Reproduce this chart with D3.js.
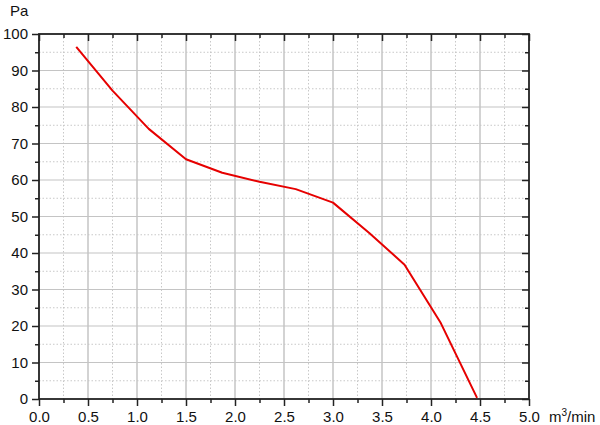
<!DOCTYPE html>
<html><head><meta charset="utf-8">
<script src="https://cdn.jsdelivr.net/npm/d3@7"></script>
<style>body{margin:0;background:#fff}svg{display:block}text{font-family:"Liberation Sans",Arial,sans-serif}</style>
</head><body>
<svg id="c" width="600" height="425"></svg>
<script>
const flow = [0.38, 0.75, 1.12, 1.50, 1.87, 2.25, 2.62, 3.00, 3.37, 3.73, 4.10, 4.47];
const pressure = [96.5, 84.5, 74.0, 65.7, 62.0, 59.5, 57.5, 53.8, 45.5, 36.8, 20.8, 0.3];
const xTicks = [0, 0.5, 1, 1.5, 2, 2.5, 3, 3.5, 4, 4.5, 5];
const yTicks = [0, 10, 20, 30, 40, 50, 60, 70, 80, 90, 100];
const xMinor = d3.range(0.25, 5, 0.5);
const yMinor = d3.range(5, 100, 10);

const svg = d3.select("#c");
const L = 39, R = 529, T = 34, B = 399;
const x = d3.scaleLinear().domain([0, 5]).range([L, R]);
const y = d3.scaleLinear().domain([0, 100]).range([B, T]);

// minor grid
const g = svg.append("g");
g.selectAll(".mx").data(xMinor).enter().append("line")
  .attr("x1", d => x(d)).attr("x2", d => x(d)).attr("y1", T).attr("y2", B)
  .attr("stroke", "#c8c8c8").attr("stroke-width", 1).attr("stroke-dasharray", "1.5,2");
g.selectAll(".my").data(yMinor).enter().append("line")
  .attr("y1", d => y(d)).attr("y2", d => y(d)).attr("x1", L).attr("x2", R)
  .attr("stroke", "#c8c8c8").attr("stroke-width", 1).attr("stroke-dasharray", "1.5,2");
// major grid
g.selectAll(".gx").data(xTicks.slice(1, -1)).enter().append("line")
  .attr("x1", d => x(d)).attr("x2", d => x(d)).attr("y1", T).attr("y2", B)
  .attr("stroke", "#c4c4c4").attr("stroke-width", 1.5);
g.selectAll(".gy").data(yTicks.slice(1, -1)).enter().append("line")
  .attr("y1", d => y(d)).attr("y2", d => y(d)).attr("x1", L).attr("x2", R)
  .attr("stroke", "#c4c4c4").attr("stroke-width", 1.2);

// axes
const xAxis = svg.append("g").attr("transform", `translate(0,${B})`)
  .call(d3.axisBottom(x).tickValues(xTicks).tickFormat(d3.format(".1f")).tickSize(7).tickPadding(5));
const xAxisMinor = svg.append("g").attr("transform", `translate(0,${B})`)
  .call(d3.axisBottom(x).tickValues(xMinor).tickFormat("").tickSize(4));
const yAxis = svg.append("g").attr("transform", `translate(${L},0)`)
  .call(d3.axisLeft(y).tickValues(yTicks).tickFormat(d3.format("d")).tickSize(7).tickPadding(4));
const yAxisMinor = svg.append("g").attr("transform", `translate(${L},0)`)
  .call(d3.axisLeft(y).tickValues(yMinor).tickFormat("").tickSize(4));
const topAxis = svg.append("g").attr("transform", `translate(0,${T})`)
  .call(d3.axisBottom(x).tickValues(xTicks).tickFormat("").tickSize(7));
const topMinor = svg.append("g").attr("transform", `translate(0,${T})`)
  .call(d3.axisBottom(x).tickValues(xMinor).tickFormat("").tickSize(4));
const rightAxis = svg.append("g").attr("transform", `translate(${R},0)`)
  .call(d3.axisLeft(y).tickValues(yTicks).tickFormat("").tickSize(7));
const rightMinor = svg.append("g").attr("transform", `translate(${R},0)`)
  .call(d3.axisLeft(y).tickValues(yMinor).tickFormat("").tickSize(4));

[xAxis, xAxisMinor, yAxis, yAxisMinor, topAxis, topMinor, rightAxis, rightMinor].forEach(a => {
  a.select(".domain").remove();
  a.selectAll("line").attr("stroke", "#222").attr("stroke-width", 1.5);
  a.selectAll("text").attr("fill", "#111").style("font-size", "15px").style("font-family", "'Liberation Sans',Arial,sans-serif");
});

// frame
svg.append("rect").attr("x", L).attr("y", T).attr("width", R - L).attr("height", B - T)
  .attr("fill", "none").attr("stroke", "#222").attr("stroke-width", 1.8);

// line
const pts = flow.map((f, i) => [f, pressure[i]]);
svg.append("path").datum(pts)
  .attr("d", d3.line().x(d => x(d[0])).y(d => y(d[1])))
  .attr("fill", "none").attr("stroke", "#e60000").attr("stroke-width", 2).attr("stroke-linejoin", "round");

// axis titles
svg.append("text").attr("x", 10).attr("y", 16).text("Pa").style("font-size", "15px").attr("fill", "#111");
const xt = svg.append("text").attr("x", 549).attr("y", 422).style("font-size", "15px").attr("fill", "#111");
xt.append("tspan").text("m");
xt.append("tspan").text("3").attr("dy", -6).style("font-size", "10px");
xt.append("tspan").text("/min").attr("dy", 6);
</script>
</body></html>
